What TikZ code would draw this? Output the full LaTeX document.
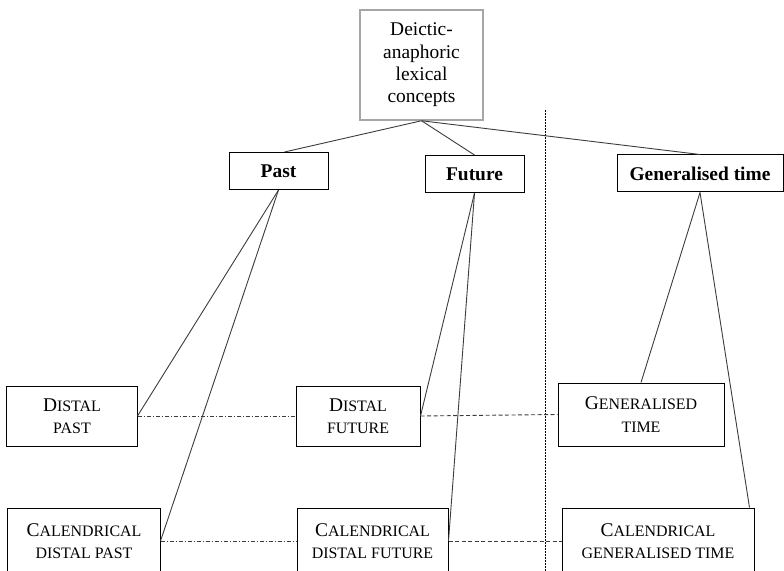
\documentclass[tikz,border=0pt]{standalone}
\usepackage{fontspec}
\setmainfont{Liberation Serif}
\usetikzlibrary{positioning}
\definecolor{boxgray}{HTML}{A6A6A6}
\definecolor{linegray}{HTML}{3C3C3C}
\newcommand{\smcap}[1]{{\fontsize{16}{22}\selectfont #1}}

\begin{document}
\begin{tikzpicture}[x=1bp,y=-1bp,font=\fontsize{19.5}{22.5}\selectfont]
\tikzstyle{rootbox} = [rectangle, draw=boxgray, line width=1.5bp, minimum width=123bp, minimum height=110bp, align=center, inner sep=2bp]
\tikzstyle{headbox} = [rectangle, draw=black, line width=1bp, minimum height=37bp, inner sep=2bp, font=\fontsize{19.5}{22}\selectfont\bfseries]
\tikzstyle{conceptbox} = [rectangle, draw=black, line width=1bp, align=center, inner sep=2bp]
\tikzstyle{link} = [draw=linegray, line width=0.9bp]
\tikzstyle{dashdotlink} = [draw=linegray, line width=0.9bp, dash pattern=on 4bp off 2bp on 1bp off 2bp]
\tikzstyle{dashlink} = [draw=linegray, line width=0.9bp, dash pattern=on 4bp off 2.5bp]
\tikzstyle{divider} = [draw=black, line width=0.8bp, dash pattern=on 2bp off 1bp]

\useasboundingbox (0,0) rectangle (784,571);
\clip (0,0) rectangle (784,571);

\node (root) [rootbox] at (421.5,65) {Deictic-\\anaphoric\\lexical\\concepts};

\node (past) [headbox, minimum width=99bp] at (278.5,171) {Past};
\node (future) [headbox, minimum width=99bp] at (474.5,174) {Future};
\node (gentime) [headbox, minimum width=166bp] at (700,173.5) {Generalised time};

\node (dpast) [conceptbox, minimum width=130bp, minimum height=60bp] at (72,416) {D\smcap{ISTAL}\\\smcap{PAST}};
\node (dfut) [conceptbox, minimum width=124bp, minimum height=60bp] at (358,416) {D\smcap{ISTAL}\\\smcap{FUTURE}};
\node (gtime) [conceptbox, minimum width=166bp, minimum height=63bp] at (641,414.5) {G\smcap{ENERALISED}\\\smcap{TIME}};

\node (cdpast) [conceptbox, minimum width=152bp, minimum height=66bp] at (84,541) {C\smcap{ALENDRICAL}\\\smcap{DISTAL PAST}};
\node (cdfut) [conceptbox, minimum width=151bp, minimum height=66bp] at (372.5,541) {C\smcap{ALENDRICAL}\\\smcap{DISTAL FUTURE}};
\node (cgtime) [conceptbox, minimum width=192bp, minimum height=66bp] at (658,541) {C\smcap{ALENDRICAL}\\\smcap{GENERALISED TIME}};

\coordinate (divtop) at (545,110);
\coordinate (divbot) at (545,571);
\draw [divider] (divtop) -- (divbot);

% tree links
\draw [link] (root.south) -- ([xshift=6bp]past.north);
\draw [link] (root.south) -- (future.north);
\draw [link] (root.south) -- (gentime.north);

\draw [link] (past.south) -- (dpast.east);
\draw [link] (past.south) -- (cdpast.east);
\draw [link] (future.south) -- (dfut.east);
\draw [link] (future.south) -- (cdfut.east);
\draw [link] (gentime.south) -- (gtime.north);
\draw [link] (gentime.south) -- ([xshift=-5bp]cgtime.north east);

% cross links
\draw [dashdotlink] (dpast.east) -- (dfut.west);
\draw [dashlink] (dfut.east) -- (gtime.west);
\draw [dashdotlink] (cdpast.east) -- (cdfut.west);
\draw [dashlink] (cdfut.east) -- (cgtime.west);

\end{tikzpicture}
\end{document}
